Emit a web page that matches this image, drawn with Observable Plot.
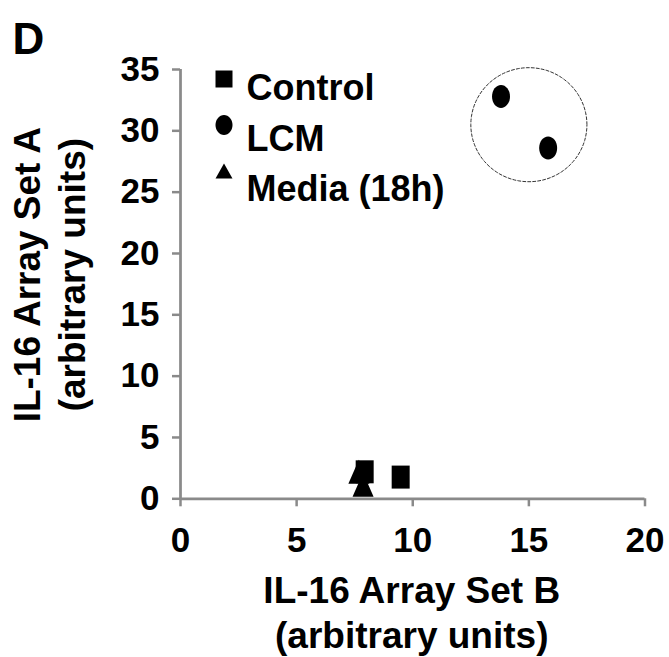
<!DOCTYPE html>
<html><head><meta charset="utf-8">
<script src="https://cdn.jsdelivr.net/npm/d3@7"></script>
<script src="https://cdn.jsdelivr.net/npm/@observablehq/plot@0.6"></script>
<style>body{margin:0;background:#fff}#chart{width:669px;height:657px}</style>
</head><body><div id="chart"></div>
<script>
// ---- data ----
const xTicks = [0, 5, 10, 15, 20];
const yTicks = [0, 5, 10, 15, 20, 25, 30, 35];
const controlX = [7.93, 9.48];
const controlY = [2.2, 1.77];
const lcmX = [13.8, 15.83];
const lcmY = [32.8, 28.6];
const mediaX = [7.68, 7.86];
const mediaY = [2.2, 1.15];
const legendLabels = ["Control", "LCM", "Media (18h)"];
const ellipseCenter = [15.0, 30.5];
const ellipseRadii = [2.5, 4.65];
const xTitle = "IL-16 Array Set B\n(arbitrary units)";
const yTitle = "IL-16 Array Set A\n(arbitrary units)";
const panelLabel = "D";

// ---- helpers ----
const zip = (xs, ys) => xs.map((x, i) => ({x, y: ys[i]}));
function rectSym(w, h) { return {draw(c) { c.moveTo(-w/2, -h/2); c.lineTo(w/2, -h/2); c.lineTo(w/2, h/2); c.lineTo(-w/2, h/2); c.closePath(); }}; }
function triSym(w, h) { return {draw(c) { c.moveTo(0, -h/2); c.lineTo(w/2, h/2); c.lineTo(-w/2, h/2); c.closePath(); }}; }
function ellSym(w, h) {
  const k = 0.5523, a = w/2, b = h/2;
  return {draw(c) {
    c.moveTo(a, 0);
    c.bezierCurveTo(a, b*k, a*k, b, 0, b);
    c.bezierCurveTo(-a*k, b, -a, b*k, -a, 0);
    c.bezierCurveTo(-a, -b*k, -a*k, -b, 0, -b);
    c.bezierCurveTo(a*k, -b, a, -b*k, a, 0);
    c.closePath();
  }};
}
const ellPts = d3.range(0, 361, 4).map(t => ({
  x: ellipseCenter[0] + ellipseRadii[0] * Math.cos(t * Math.PI / 180),
  y: ellipseCenter[1] + ellipseRadii[1] * Math.sin(t * Math.PI / 180)
}));

const FONT = "'Liberation Sans', Arial, Helvetica, sans-serif";
const GRAY = "#8a8a8a";
const legendSyms = [rectSym(17, 17), ellSym(17, 20), triSym(17, 15)];
const legendSymDy = [9.5, 55.5, 101.5];
const legendTextDy = [30, 81, 131];

const marks = [
  Plot.line(ellPts, {x: "x", y: "y", stroke: "#333", strokeWidth: 1, strokeDasharray: "3,2", curve: "linear-closed"}),
  Plot.axisX({ticks: xTicks, tickSize: 8, tickPadding: 20, stroke: GRAY, strokeWidth: 2.5, fontSize: 35, fontWeight: "bold", fill: "#000", label: null}),
  Plot.axisY({ticks: yTicks, tickSize: 8, tickPadding: 13, stroke: GRAY, strokeWidth: 2.5, fontSize: 35, fontWeight: "bold", fill: "#000", label: null}),
  Plot.ruleX([0], {stroke: GRAY, strokeWidth: 2.75}),
  Plot.ruleY([0], {stroke: GRAY, strokeWidth: 2.75}),
  Plot.dot(zip(controlX, controlY), {x: "x", y: "y", symbol: rectSym(18, 23), fill: "#000", stroke: "none"}),
  Plot.dot(zip(lcmX, lcmY), {x: "x", y: "y", symbol: ellSym(18, 23), fill: "#000", stroke: "none"}),
  Plot.dot(zip(mediaX, mediaY), {x: "x", y: "y", symbol: triSym(21, 24), fill: "#000", stroke: "none"}),
  Plot.text([xTitle], {frameAnchor: "bottom", text: d => d, dx: -1, dy: 149, textAnchor: "middle", lineAnchor: "bottom", lineHeight: 1.2, fontSize: 37, fontWeight: "bold", fill: "#000"}),
  Plot.text([yTitle], {frameAnchor: "left", text: d => d, dx: -96, dy: -9.5, rotate: -90, textAnchor: "middle", lineAnchor: "bottom", lineHeight: 1.2, fontSize: 37, fontWeight: "bold", fill: "#000"}),
  Plot.text([panelLabel], {frameAnchor: "top-left", text: d => d, dx: -168, dy: -16, textAnchor: "start", lineAnchor: "bottom", fontSize: 44, fontWeight: "bold", fill: "#000"})
];
legendLabels.forEach((lab, i) => {
  marks.push(Plot.dot([lab], {frameAnchor: "top-left", dx: 43.5, dy: legendSymDy[i], symbol: legendSyms[i], fill: "#000", stroke: "none"}));
  marks.push(Plot.text([lab], {frameAnchor: "top-left", text: d => d, dx: 66, dy: legendTextDy[i], textAnchor: "start", lineAnchor: "bottom", fontSize: 36, fontWeight: "bold", fill: "#000"}));
});

const chart = Plot.plot({
  width: 669,
  height: 657,
  marginLeft: 180,
  marginRight: 24.5,
  marginTop: 69,
  marginBottom: 158.7,
  x: {domain: [0, 20]},
  y: {domain: [0, 35]},
  style: {fontFamily: FONT, fontWeight: "bold", background: "#fff", color: "#000", overflow: "visible"},
  marks
});
document.getElementById("chart").appendChild(chart);
</script>
</body></html>
